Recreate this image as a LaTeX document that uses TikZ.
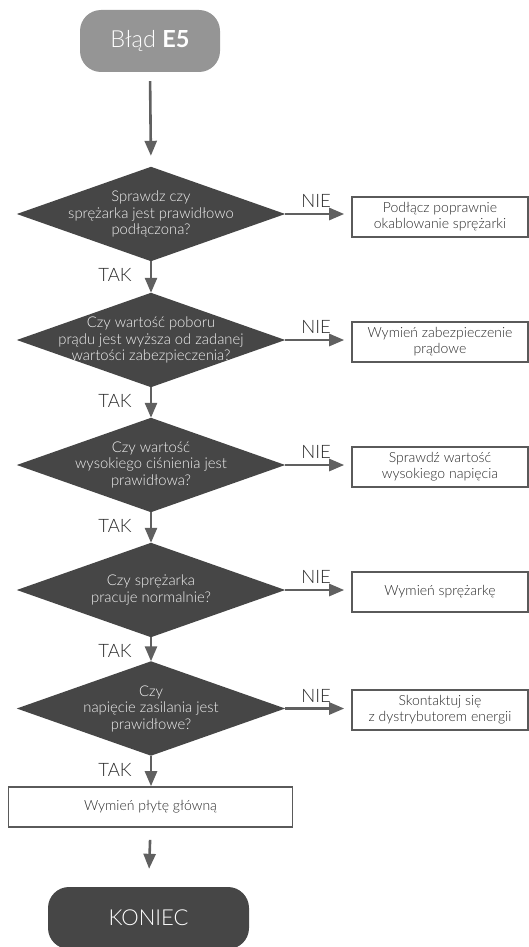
\documentclass[tikz,border=0pt]{standalone}
\usepackage{fontspec}
\setmainfont{Lato}[UprightFont=* Light, BoldFont=* Bold]
\usetikzlibrary{arrows.meta,backgrounds,calc}

\definecolor{startgray}{HTML}{959595}
\definecolor{darkfill}{HTML}{464646}
\definecolor{linegray}{HTML}{606060}
\definecolor{framegray}{HTML}{5A5A5A}
\definecolor{txtgray}{HTML}{2A2A2A}

\tikzset{
  terminal/.style={rectangle, rounded corners=21pt, minimum height=62pt,
    inner sep=0pt, text=white, font=\fontsize{22}{25}\selectfont},
  decision/.style={rectangle, minimum width=268pt, minimum height=94pt,
    inner sep=0pt, align=center, text=white!95!black,
    font=\fontsize{14.8}{16.5}\selectfont},
  action/.style={rectangle, draw=framegray, line width=1.6pt, fill=white,
    minimum height=40pt, inner sep=0pt, align=center, text=txtgray,
    font=\fontsize{14}{16}\selectfont},
  flow/.style={draw=linegray, line width=2.6pt,
    -{Triangle[length=15pt,width=12pt]}},
  answer/.style={text=txtgray, font=\fontsize{18.5}{20}\selectfont, inner sep=0pt}
}

\begin{document}
\begin{tikzpicture}[x=1pt, y=-1pt]
\useasboundingbox (0,0) rectangle (529,947);

% start / end
\node[terminal, fill=startgray, minimum width=140pt, font=\fontsize{23.5}{26}\selectfont] (start) at (150,41) {Błąd \textbf{E5}};
\node[terminal, fill=darkfill, minimum width=201pt] (stop) at (148.5,918) {KONIEC};

% questions
\node[decision] (d1) at (151,214) {Sprawdz czy\\sprężarka jest prawidłowo\\podłączona?};
\node[decision] (d2) at (151,340) {Czy wartość poboru\\prądu jest wyższa od zadanej\\wartości zabezpieczenia?};
\node[decision] (d3) at (151,465) {Czy wartość\\wysokiego ciśnienia jest\\prawidłowa?};
\node[decision] (d4) at (151,590) {Czy sprężarka\\pracuje normalnie?};
\node[decision] (d5) at (151,708.5) {Czy\\napięcie zasilania jest\\prawidłowe?};

\begin{scope}[on background layer]
  \foreach \d in {d1,d2,d3,d4,d5}
    \fill[darkfill] (\d.north) -- (\d.east) -- (\d.south) -- (\d.west) -- cycle;
\end{scope}

% actions
\node[action, minimum width=176pt] (a1) at (440,217) {Podłącz poprawnie\\okablowanie sprężarki};
\node[action, minimum width=176pt] (a2) at (440,342) {Wymień zabezpieczenie\\prądowe};
\node[action, minimum width=176pt] (a3) at (440,467) {Sprawdź wartość\\wysokiego napięcia};
\node[action, minimum width=176pt] (a4) at (440,592) {Wymień sprężarkę};
\node[action, minimum width=176pt] (a5) at (440,710) {Skontaktuj się\\z dystrybutorem energii};
\node[action, minimum width=284pt] (a6) at (150.5,807) {Wymień płytę główną};

% main line
\draw[flow, shorten <=9pt, shorten >=11pt] (start.south) -- (d1.north);
\draw[flow] (d1.south) -- (d2.north);
\draw[flow] (d2.south) -- (d3.north);
\draw[flow] (d3.south) -- (d4.north);
\draw[flow] (d4.south) -- (d5.north);
\draw[flow] (d5.south) -- (d5.south |- a6.north);
\draw[flow, shorten <=12pt, shorten >=18pt] (a6.south) -- (stop.north);

% answer labels and side branches
\foreach \i in {1,...,5}{
  \draw[flow, shorten >=7pt] (d\i.east) -- (d\i.east -| a\i.west);
  \node[answer] (nie\i) at ($(d\i.east)+(31,-13)$) {NIE};
  \node[answer] (tak\i) at ($(d\i.south)+(-36,14)$) {TAK};
}
\end{tikzpicture}
\end{document}
